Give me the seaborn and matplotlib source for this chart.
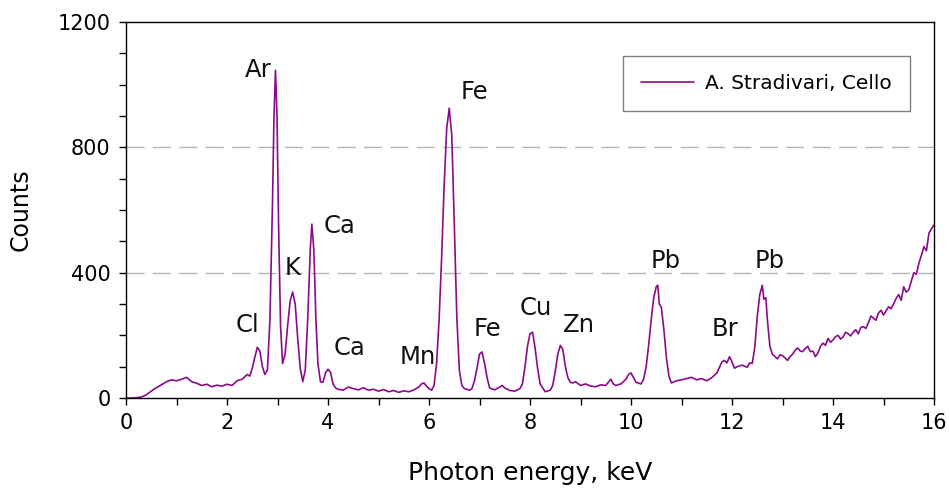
import numpy as np
import pandas as pd
import matplotlib
matplotlib.use("Agg")
import matplotlib.pyplot as plt
import seaborn as sns

# ---- data (photon energy keV, counts) ----
energy_kev = [
    0.0, 0.1, 0.2, 0.3, 0.4, 0.5, 0.6, 0.7, 0.8, 0.9, 1.0, 1.1, 1.2, 1.3, 1.4, 1.5,
    1.6, 1.7, 1.8, 1.9, 2.0, 2.1, 2.2, 2.3, 2.4, 2.45, 2.5, 2.55, 2.6, 2.65, 2.7, 2.75,
    2.8, 2.85, 2.9, 2.93, 2.96, 2.99, 3.02, 3.06, 3.1, 3.15, 3.2, 3.25, 3.3, 3.35, 3.4,
    3.45, 3.5, 3.55, 3.6, 3.65, 3.68, 3.72, 3.76, 3.8, 3.85, 3.9, 3.95, 4.0, 4.05, 4.1,
    4.15, 4.2, 4.3, 4.4, 4.5, 4.6, 4.7, 4.8, 4.9, 5.0, 5.1, 5.2, 5.3, 5.4, 5.5, 5.6, 5.7,
    5.8, 5.85, 5.9, 5.95, 6.0, 6.05, 6.1, 6.15, 6.2, 6.25, 6.3, 6.35, 6.4, 6.45, 6.5,
    6.55, 6.6, 6.65, 6.7, 6.8, 6.85, 6.9, 6.95, 7.0, 7.05, 7.1, 7.15, 7.2, 7.3, 7.4,
    7.45, 7.5, 7.6, 7.7, 7.8, 7.85, 7.9, 7.95, 8.0, 8.05, 8.1, 8.15, 8.2, 8.3, 8.4,
    8.45, 8.5, 8.55, 8.6, 8.65, 8.7, 8.75, 8.8, 8.85, 8.9, 9.0, 9.1, 9.2, 9.3, 9.4,
    9.5, 9.55, 9.6, 9.65, 9.7, 9.8, 9.9, 9.95, 10.0, 10.05, 10.1, 10.2, 10.25, 10.3,
    10.35, 10.4, 10.45, 10.5, 10.53, 10.56, 10.6, 10.65, 10.7, 10.75, 10.8, 10.9,
    11.0, 11.1, 11.2, 11.3, 11.4, 11.5, 11.6, 11.7, 11.8, 11.85, 11.9, 11.95, 12.0,
    12.05, 12.1, 12.2, 12.3, 12.35, 12.4, 12.45, 12.5, 12.55, 12.6, 12.63, 12.67,
    12.7, 12.75, 12.8, 12.85, 12.9, 12.95,
    13.0, 13.05, 13.1, 13.15, 13.2, 13.25, 13.3, 13.35, 13.4, 13.45, 13.5, 13.55,
    13.6, 13.65, 13.7, 13.75, 13.8, 13.85, 13.9, 13.95, 14.0, 14.05, 14.1, 14.15,
    14.2, 14.25, 14.3, 14.35, 14.4, 14.45, 14.5, 14.55, 14.6, 14.65, 14.7, 14.75,
    14.8, 14.85, 14.9, 14.95, 15.0, 15.05, 15.1, 15.15, 15.2, 15.25, 15.3, 15.35,
    15.4, 15.45, 15.5, 15.55, 15.6, 15.65, 15.7, 15.75, 15.8, 15.85, 15.9, 15.95, 16.0,
]
counts = [
    0, 0, 1, 3, 10, 22, 33, 42, 52, 58, 55, 60, 66, 52, 47, 40,
    44, 36, 41, 38, 44, 40, 55, 60, 75, 70, 95, 130, 162, 150, 100, 75,
    90, 250, 620, 900, 1046, 900, 560, 230, 110, 140, 230, 310, 338, 300, 190,
    95, 52, 90, 260, 480, 555, 470, 250, 110, 52, 50, 80, 92, 82, 45,
    32, 28, 25, 35, 30, 26, 33, 25, 28, 22, 27, 20, 24, 18, 23, 20, 26,
    35, 45, 48, 38, 30, 25, 40, 110, 250, 450, 680, 860, 925, 840, 560,
    260, 90, 40, 30, 25, 30, 55, 95, 140, 147, 110, 65, 32, 26, 35,
    40, 32, 24, 22, 30, 45, 100, 165, 205, 210, 160, 95, 45, 20, 25,
    40, 85, 140, 168, 155, 100, 65, 50, 48, 52, 40, 45, 38, 36, 42,
    40, 50, 60, 45, 40, 45, 60, 75, 80, 65, 50, 45, 60, 100,
    170, 250, 320, 355, 360, 300, 290, 220, 130, 70, 48, 55,
    58, 62, 66, 58, 62, 55, 65, 80, 115, 120, 112, 132, 115,
    95, 100, 105, 98, 112, 110, 160, 260, 330, 360, 315, 320,
    250, 165, 140, 132, 125, 138,
    135, 128, 120, 132, 140, 152, 160, 150, 148, 158, 165, 148,
    150, 132, 143, 165, 175, 168, 190, 178, 185, 196, 200, 188,
    195, 210, 205, 198, 210, 218, 205, 225, 228, 222, 240, 262,
    255, 248, 271, 280, 265, 278, 291, 285, 300, 318, 330, 312,
    355, 338, 345, 372, 400, 395, 430, 455, 483, 470, 526, 540, 552,
]
series_name = "A. Stradivari, Cello"

peak_labels = ["Cl", "Ar", "K", "Ca", "Ca", "Mn", "Fe", "Fe", "Cu", "Zn", "Pb", "Br", "Pb"]
label_x = [2.40, 2.61, 3.29, 4.22, 4.42, 5.78, 6.89, 7.15, 8.12, 8.97, 10.69, 11.86, 12.75]
label_y = [233, 1046, 415, 549, 160, 131, 976, 220, 287, 233, 437, 220, 437]

x_ticks = [0, 2, 4, 6, 8, 10, 12, 14, 16]
y_ticks = [0, 400, 800, 1200]

# ---- styling ----
sns.set_style("ticks")
plt.rcParams["font.family"] = ["DejaVu Sans"]

fig = plt.figure(figsize=(9.49, 4.88), dpi=100)
ax = fig.add_axes([0.1328, 0.1844, 0.8514, 0.7705])

df = pd.DataFrame({"energy": energy_kev, "counts": counts, "series": series_name})
sns.lineplot(data=df, x="energy", y="counts", hue="series",
             palette=["#8a0a8a"], linewidth=1.2, ax=ax, legend=True)

ax.set_xlim(0, 16)
ax.set_ylim(0, 1200)
ax.set_xticks(x_ticks)
ax.set_xticks(np.arange(0, 17, 1), minor=True)
ax.set_yticks(y_ticks)
ax.set_yticks(np.arange(0, 1201, 100), minor=True)
ax.tick_params(axis="both", which="both", direction="out", length=5, width=1,
               color="black", labelcolor="black", labelsize=15, pad=6)

for y in (400, 800):
    ax.axhline(y, color="#b4b4b4", linewidth=1, linestyle=(0, (13, 6)), zorder=0)

for sp in ax.spines.values():
    sp.set_color("black")
    sp.set_linewidth(1)

ax.set_xlabel("Photon energy, keV", fontsize=18, labelpad=20, color="black")
ax.set_ylabel("Counts", fontsize=17, labelpad=18, color="black")

for t, x, y in zip(peak_labels, label_x, label_y):
    ax.text(x, y, t, fontsize=17.5, ha="center", va="center", color="#111111")

leg = ax.legend(loc="upper right", bbox_to_anchor=(0.970, 0.910), fontsize=14.5,
                frameon=True, fancybox=False, shadow=False, handlelength=2.6,
                handletextpad=0.55, borderpad=0.9, borderaxespad=0)
leg.get_frame().set_edgecolor("#808080")
leg.get_frame().set_linewidth(1)
leg.get_frame().set_alpha(1)
for txt in leg.get_texts():
    txt.set_color("black")

fig.savefig("out.png", dpi=100)
